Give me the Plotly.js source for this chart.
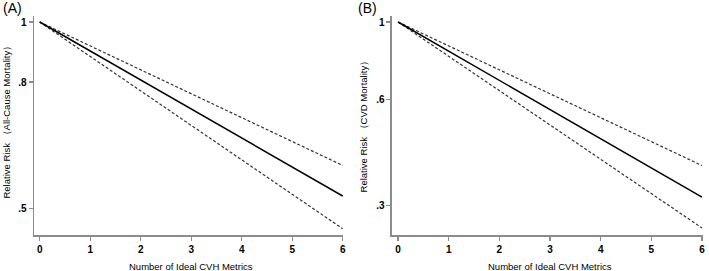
<!DOCTYPE html>
<html>
<head>
<meta charset="utf-8">
<script src="https://cdn.plot.ly/plotly-3.0.1.min.js"></script>
<style>html,body{margin:0;padding:0;background:#fff;}#chart{width:709px;height:271px;}</style>
</head>
<body>
<div id="chart"></div>
<script>
// Number of ideal CVH metrics
const metrics = [0, 1, 2, 3, 4, 5, 6];

// Panel A: All-cause mortality relative risk
const allCauseRR    = [1, 0.898, 0.806, 0.724, 0.650, 0.584, 0.524];
const allCauseUpper = [1, 0.915, 0.837, 0.766, 0.701, 0.641, 0.587];
const allCauseLower = [1, 0.880, 0.774, 0.681, 0.600, 0.528, 0.464];

// Panel B: CVD mortality relative risk
const cvdRR    = [1, 0.826, 0.682, 0.563, 0.465, 0.384, 0.317];
const cvdUpper = [1, 0.855, 0.731, 0.625, 0.534, 0.457, 0.390];
const cvdLower = [1, 0.798, 0.637, 0.508, 0.406, 0.324, 0.259];

// Tick labels
const xTickVals = [0, 1, 2, 3, 4, 5, 6];
const xTickText = ['0', '1', '2', '3', '4', '5', '6'];
const yTickValsA = [0.5, 0.8, 1];
const yTickTextA = ['.5', '.8', '1'];
const yTickValsB = [0.3, 0.6, 1];
const yTickTextB = ['.3', '.6', '1'];

const FONT = 'Liberation Sans, Arial, sans-serif';
const solid = {color: '#000', width: 1.5};
const dashed = {color: '#333', width: 1.2, dash: '3px,2px'};

const traces = [
  {x: metrics, y: allCauseUpper, mode: 'lines', line: dashed, xaxis: 'x', yaxis: 'y'},
  {x: metrics, y: allCauseLower, mode: 'lines', line: dashed, xaxis: 'x', yaxis: 'y'},
  {x: metrics, y: allCauseRR, mode: 'lines', line: solid, xaxis: 'x', yaxis: 'y'},
  {x: metrics, y: cvdUpper, mode: 'lines', line: dashed, xaxis: 'x2', yaxis: 'y2'},
  {x: metrics, y: cvdLower, mode: 'lines', line: dashed, xaxis: 'x2', yaxis: 'y2'},
  {x: metrics, y: cvdRR, mode: 'lines', line: solid, xaxis: 'x2', yaxis: 'y2'}
];

const axisCommon = {
  showline: true, linecolor: '#8c8c8c', linewidth: 1.5,
  showgrid: false, zeroline: false,
  ticks: 'outside', ticklen: 4, tickcolor: '#8c8c8c', tickwidth: 1.2,
  tickfont: {family: FONT, size: 10, color: '#000', weight: 'bold'},
  fixedrange: true
};

const layout = {
  width: 709, height: 271,
  margin: {l: 34, r: 6, t: 16, b: 36},
  paper_bgcolor: '#fff', plot_bgcolor: '#fff',
  showlegend: false,
  font: {family: FONT, size: 10, color: '#000'},
  xaxis: Object.assign({}, axisCommon, {domain: [0, 0.4619], range: [-0.113, 6.006], tickvals: xTickVals, ticktext: xTickText, anchor: 'y'}),
  yaxis: Object.assign({}, axisCommon, {type: 'log', range: [-0.3436, 0.0097], tickvals: yTickValsA, ticktext: yTickTextA, anchor: 'x'}),
  xaxis2: Object.assign({}, axisCommon, {domain: [0.5351, 1], range: [-0.12, 6.02], tickvals: xTickVals, ticktext: xTickText, anchor: 'y2'}),
  yaxis2: Object.assign({}, axisCommon, {type: 'log', range: [-0.6068, 0.0171], tickvals: yTickValsB, ticktext: yTickTextB, anchor: 'x2'}),
  annotations: [
    {text: '(A)', xref: 'paper', yref: 'paper', x: -0.0493, y: 1.0365, xanchor: 'left', yanchor: 'middle', showarrow: false, font: {family: FONT, size: 14, color: '#000'}},
    {text: '(B)', xref: 'paper', yref: 'paper', x: 0.4806, y: 1.0365, xanchor: 'left', yanchor: 'middle', showarrow: false, font: {family: FONT, size: 14, color: '#000'}},
    {text: 'Relative Risk （All-Cause Mortality）', xref: 'paper', yref: 'paper', x: -0.0411, y: 0.525, xanchor: 'center', yanchor: 'middle', textangle: -90, showarrow: false, font: {family: FONT, size: 9.5, color: '#000'}},
    {text: 'Relative Risk （CVD Mortality）', xref: 'paper', yref: 'paper', x: 0.4925, y: 0.507, xanchor: 'center', yanchor: 'middle', textangle: -90, showarrow: false, font: {family: FONT, size: 9.5, color: '#000'}},
    {text: 'Number of Ideal CVH Metrics', xref: 'paper', yref: 'paper', x: 0.2354, y: -0.1447, xanchor: 'center', yanchor: 'middle', showarrow: false, font: {family: FONT, size: 9.5, color: '#000'}},
    {text: 'Number of Ideal CVH Metrics', xref: 'paper', yref: 'paper', x: 0.7713, y: -0.1447, xanchor: 'center', yanchor: 'middle', showarrow: false, font: {family: FONT, size: 9.5, color: '#000'}}
  ]
};

Plotly.newPlot('chart', traces, layout, {displayModeBar: false, staticPlot: true});
</script>
</body>
</html>
